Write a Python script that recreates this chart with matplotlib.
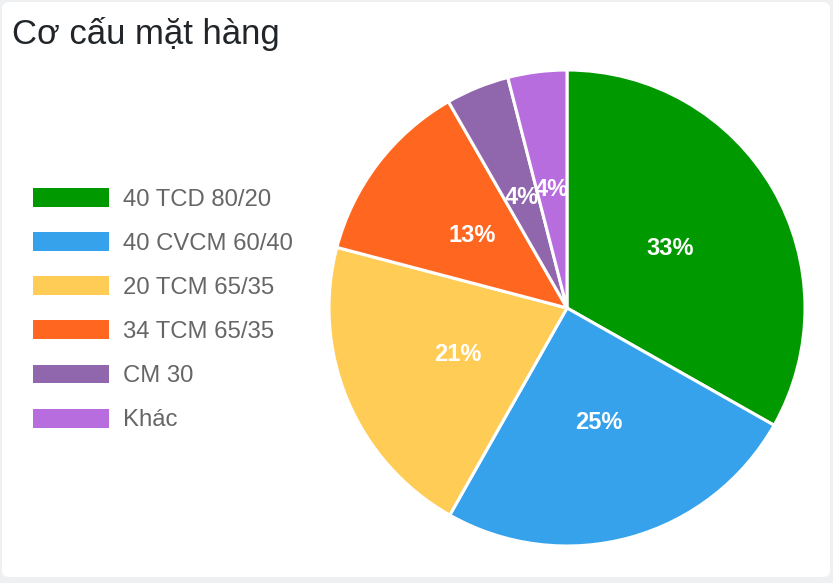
import matplotlib.pyplot as plt
from matplotlib.patches import FancyBboxPatch, Patch

labels = ["40 TCD 80/20", "40 CVCM 60/40", "20 TCM 65/35", "34 TCM 65/35", "CM 30", "Khác"]
shares = [33.2, 25.0, 20.9, 12.6, 4.3, 4.0]
colors = ["#009900", "#36A2EB", "#FFCD56", "#FF6720", "#9067AC", "#B86DDF"]

W, H = 833, 583
plt.rcParams['font.family'] = ['Liberation Sans', 'DejaVu Sans']

fig = plt.figure(figsize=(W / 100, H / 100), dpi=100)
fig.patch.set_facecolor("#eef0f2")

# white card behind everything
card = FancyBboxPatch((2 / W, 6 / H), 828 / W, 575 / H,
                      boxstyle="round,pad=0,rounding_size=0.01",
                      transform=fig.transFigure, facecolor="white",
                      edgecolor="none", zorder=-5)
fig.patches.append(card)

fig.text(12 / W, 1 - 44 / H, "Cơ cấu mặt hàng", fontsize=25,
         color="#212529", ha="left", va="baseline")

cx, cy, r = 567, 308, 238
ax = fig.add_axes([(cx - r) / W, (H - cy - r) / H, 2 * r / W, 2 * r / H])
ax.patch.set_visible(False)
wedges, texts, autotexts = ax.pie(
    shares, colors=colors, startangle=90, counterclock=False,
    autopct=lambda p: "%d%%" % round(p), pctdistance=0.5,
    wedgeprops=dict(edgecolor="white", linewidth=2.2),
    textprops=dict(color="white", fontsize=17, fontweight="bold"))
for w in wedges:
    w.set_clip_on(False)
ax.set_xlim(-1, 1)
ax.set_ylim(-1, 1)
ax.set_aspect("equal")

handles = [Patch(facecolor=c, edgecolor="none") for c in colors]
fig.legend(handles, labels, loc="upper left",
           bbox_to_anchor=(33 / W, 1 - 188 / H), frameon=False,
           fontsize=17.2, labelcolor="#666666", handlelength=3.17,
           handleheight=0.83, handletextpad=0.58, labelspacing=0.9,
           borderpad=0, borderaxespad=0)

fig.savefig("out.png", dpi=100, facecolor=fig.get_facecolor())
